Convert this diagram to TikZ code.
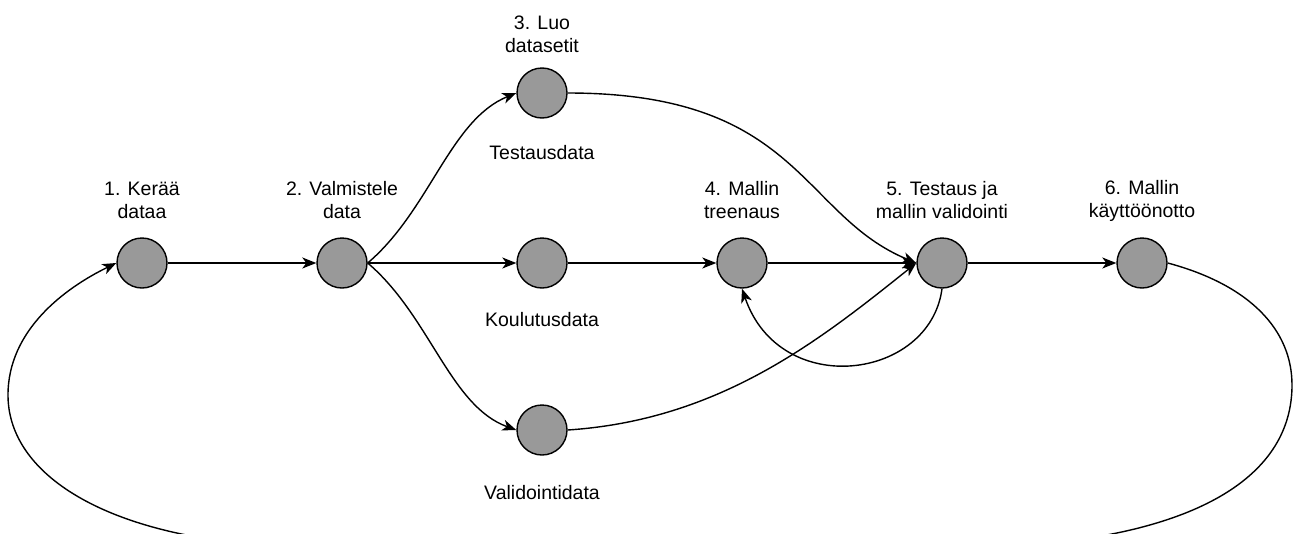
\documentclass[tikz,border=0pt]{standalone}
\usepackage{fontspec}
\setmainfont{Liberation Sans}
\usetikzlibrary{arrows.meta}
\begin{document}
\begin{tikzpicture}[x=1pt,y=-1pt,
  stage/.style={circle,draw=black,line width=1.4pt,minimum size=50pt,inner sep=0pt},
  lbl/.style={align=center,inner sep=0pt,font=\fontsize{19.5}{23}\selectfont},
  conn/.style={line width=1.4pt,-{Stealth[length=14pt,width=11pt,inset=4pt]}},
  plain/.style={line width=1.4pt}]
\clip (0,0) rectangle (1293,533);
\useasboundingbox (0,0) rectangle (1293,533);
\definecolor{stagefill}{RGB}{153,153,153}
\tikzset{stage/.append style={fill=stagefill}}
% nodes
\node[stage] (n1) at (142,263) {};
\node[stage] (n2) at (342,263) {};
\node[stage] (n3) at (542,93) {};
\node[stage] (nk) at (542,263) {};
\node[stage] (nv) at (542,430) {};
\node[stage] (n4) at (742,263) {};
\node[stage] (n5) at (942,263) {};
\node[stage] (n6) at (1142,263) {};
% labels
\node[lbl] (l1) at (142,200.5) {1. Kerää\\dataa};
\node[lbl] (l2) at (342,200.5) {2. Valmistele\\data};
\node[lbl] (l3) at (542,34.5) {3. Luo\\datasetit};
\node[lbl] (l4) at (742,200.5) {4. Mallin\\treenaus};
\node[lbl] (l5) at (942,200.5) {5. Testaus ja\\mallin validointi};
\node[lbl] (l6) at (1142,200.5) {6. Mallin\\käyttöönotto};
\node[lbl] (lt) at (542,153) {Testausdata};
\node[lbl] (lk) at (542,320) {Koulutusdata};
\node[lbl] (lv) at (542,493) {Validointidata};
% connectors
\draw[conn] (n1) -- (n2);
\draw[conn] (n2.east) .. controls (430,210) and (450,120) .. (n3.west);
\draw[conn] (n2) -- (nk);
\draw[conn] (n2.east) .. controls (430,316) and (450,406) .. (nv.west);
\draw[conn] (n3.east) .. controls (800,93) and (800,215) .. (n5.west);
\draw[conn] (nk) -- (n4);
\draw[conn] (nv.east) .. controls (720,420) and (820,340) .. (n5.west);
\draw[conn] (n4) -- (n5);
\draw[conn] (n5.south) .. controls (930,380) and (780,400) .. (n4.south);
\draw[conn] (n5) -- (n6);
\coordinate (br) at (1292,385);
\coordinate (bb1) at (1050,543);
\coordinate (bb2) at (240,543);
\coordinate (bl) at (8,395);
\draw[plain] (n6.east) .. controls (1250,285) and (1292,330) .. (br)
  .. controls (1292,475) and (1200,528) .. (bb1) -- (bb2);
\draw[conn] (bb2) .. controls (95,528) and (8,470) .. (bl)
  .. controls (8,330) and (65,288) .. (n1.west);
\end{tikzpicture}
\end{document}
